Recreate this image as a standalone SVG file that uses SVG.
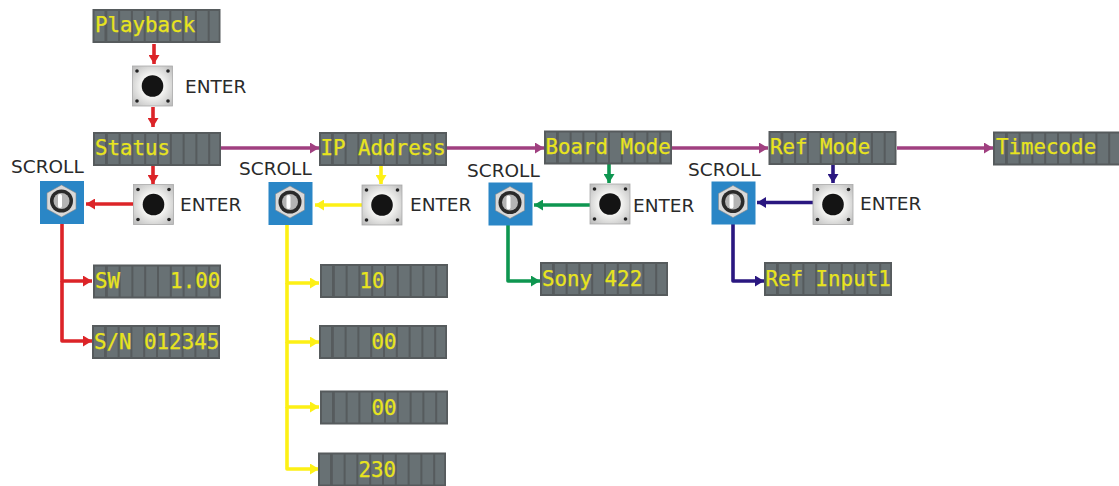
<svg xmlns="http://www.w3.org/2000/svg" width="1119" height="486" viewBox="0 0 1119 486">
<style>
.t{font-family:"DejaVu Sans Mono","Liberation Mono",monospace;font-size:20.8px;fill:#e8e41e;stroke:#e8e41e;stroke-width:.25}
.l{font-family:"DejaVu Sans","Liberation Sans",sans-serif;font-size:18.5px;fill:#2a2a2a}
.c{fill:none;stroke-width:3.6;stroke-linejoin:round}
.r{stroke:#dc2428}.y{stroke:#fdf015}.g{stroke:#0e9650}.b{stroke:#2a1780}.p{stroke:#a04080}
</style>
<defs>
<marker id="mr" markerUnits="userSpaceOnUse" markerWidth="9" markerHeight="11" refX="9" refY="5.5" orient="auto"><path d="M0 0L9 5.5L0 11z" fill="#dc2428"/></marker>
<marker id="my" markerUnits="userSpaceOnUse" markerWidth="9" markerHeight="11" refX="9" refY="5.5" orient="auto"><path d="M0 0L9 5.5L0 11z" fill="#fdf015"/></marker>
<marker id="mg" markerUnits="userSpaceOnUse" markerWidth="9" markerHeight="11" refX="9" refY="5.5" orient="auto"><path d="M0 0L9 5.5L0 11z" fill="#0e9650"/></marker>
<marker id="mb" markerUnits="userSpaceOnUse" markerWidth="9" markerHeight="11" refX="9" refY="5.5" orient="auto"><path d="M0 0L9 5.5L0 11z" fill="#2a1780"/></marker>
<marker id="mp" markerUnits="userSpaceOnUse" markerWidth="9" markerHeight="11" refX="9" refY="5.5" orient="auto"><path d="M0 0L9 5.5L0 11z" fill="#a04080"/></marker>
<g id="disp">
<rect width="128" height="34" fill="#565b5d"/>
<g fill="#687174"><rect x="2" y="2" width="10" height="30"/><rect x="14.800000000000001" y="2" width="10.8" height="30"/><rect x="27.6" y="2" width="10.8" height="30"/><rect x="40.4" y="2" width="10.8" height="30"/><rect x="53.2" y="2" width="10.8" height="30"/><rect x="66" y="2" width="10.8" height="30"/><rect x="78.8" y="2" width="10.8" height="30"/><rect x="91.6" y="2" width="10.8" height="30"/><rect x="104.4" y="2" width="10.8" height="30"/><rect x="117.2" y="2" width="9" height="30"/></g>
</g>
<radialGradient id="eg" cx=".5" cy=".5" r=".7"><stop offset=".4" stop-color="#f4f4f2"/><stop offset="1" stop-color="#b9b9b9"/></radialGradient>
<g id="enter">
<rect width="40" height="40" fill="url(#eg)" stroke="#aaa" stroke-width=".8"/>
<circle cx="20" cy="20" r="10.800" fill="#141414"/>
<g fill="#222"><circle cx="4.500000000000001" cy="5" r="1.8"/><circle cx="35.5" cy="5" r="1.8"/><circle cx="4.500000000000001" cy="35" r="1.8"/><circle cx="35.5" cy="35" r="1.8"/></g>
</g>
<g id="scroll">
<rect width="44" height="43" fill="#2a86c6"/>
<path d="M21.500 4L36 12V28L21.500 36L7 28V12z" fill="#d9d9d9" stroke="#888" stroke-width=".6"/>
<circle cx="21.500" cy="20" r="11.500" fill="#2a2a2a"/>
<circle cx="21.500" cy="20" r="8" fill="#b4b4b4"/>
<rect x="18" y="13" width="4" height="14" rx="2" fill="#fff"/>
</g>
</defs>

<g id="connectors">
<path class="c r" marker-end="url(#mr)" d="M154 44V64"/>
<path class="c r" marker-end="url(#mr)" d="M153 107V127"/>
<path class="c r" marker-end="url(#mr)" d="M153 166V184"/>
<path class="c r" marker-end="url(#mr)" d="M133 204H86"/>
<path class="c r" marker-end="url(#mr)" d="M62 224V281H92"/>
<path class="c r" marker-end="url(#mr)" d="M62 281V341H92"/>
<path class="c y" marker-end="url(#my)" d="M381 166V184"/>
<path class="c y" marker-end="url(#my)" d="M362 205H315"/>
<path class="c y" marker-end="url(#my)" d="M287 225V283H319"/>
<path class="c y" marker-end="url(#my)" d="M287 283V342H319"/>
<path class="c y" marker-end="url(#my)" d="M287 342V407H319"/>
<path class="c y" marker-end="url(#my)" d="M287 407V469H319"/>
<path class="c g" marker-end="url(#mg)" d="M609 164V183"/>
<path class="c g" marker-end="url(#mg)" d="M590 205H534"/>
<path class="c g" marker-end="url(#mg)" d="M508 225V281H540"/>
<path class="c b" marker-end="url(#mb)" d="M833 164V183"/>
<path class="c b" marker-end="url(#mb)" d="M813 202.500H757"/>
<path class="c b" marker-end="url(#mb)" d="M733 224V281H764"/>
<path class="c p" marker-end="url(#mp)" d="M221 148H319"/>
<path class="c p" marker-end="url(#mp)" d="M447 148H544"/>
<path class="c p" marker-end="url(#mp)" d="M672 148H768"/>
<path class="c p" marker-end="url(#mp)" d="M897 148H993"/>
</g>

<g id="n-playback"><use href="#disp" x="92.5" y="9"/><text class="t" x="95" y="32">Playback</text></g>
<g id="n-status"><use href="#disp" x="93" y="132"/><text class="t" x="95" y="155">Status</text></g>
<g id="n-ip"><use href="#disp" x="319" y="132"/><text class="t" x="320.500" y="155">IP Address</text></g>
<g id="n-board"><use href="#disp" x="544" y="130.500"/><text class="t" x="545.500" y="154">Board Mode</text></g>
<g id="n-ref"><use href="#disp" x="768.500" y="131"/><text class="t" x="770" y="154">Ref Mode</text></g>
<g id="n-timecode"><use href="#disp" x="993" y="131.500"/><text class="t" x="996" y="154">Timecode</text></g>
<g id="n-sw"><use href="#disp" x="93" y="264.500"/><text class="t" x="95" y="288" xml:space="preserve">SW    1.00</text></g>
<g id="n-sn"><use href="#disp" x="92" y="325"/><text class="t" x="94" y="349">S/N 012345</text></g>
<g id="n-ip1"><use href="#disp" x="320" y="264"/><text class="t" x="359.500" y="288">10</text></g>
<g id="n-ip2"><use href="#disp" x="319" y="325"/><text class="t" x="371.500" y="349">00</text></g>
<g id="n-ip3"><use href="#disp" x="320" y="390.500"/><text class="t" x="371.500" y="415">00</text></g>
<g id="n-ip4"><use href="#disp" x="318" y="452.500"/><text class="t" x="358.500" y="477">230</text></g>
<g id="n-sony"><use href="#disp" x="540" y="262"/><text class="t" x="542" y="286">Sony 422</text></g>
<g id="n-refin"><use href="#disp" x="764" y="262"/><text class="t" x="765.500" y="286">Ref Input1</text></g>

<g id="n-enter0"><use href="#enter" x="132.500" y="66"/><text class="l" x="185" y="93">ENTER</text></g>
<g id="n-enter1"><use href="#enter" x="133.500" y="184.500"/><text class="l" x="180" y="211">ENTER</text></g>
<g id="n-enter2"><use href="#enter" x="362" y="185"/><text class="l" x="410" y="211">ENTER</text></g>
<g id="n-enter3"><use href="#enter" x="590" y="184"/><text class="l" x="633" y="212">ENTER</text></g>
<g id="n-enter4"><use href="#enter" x="813" y="184.500"/><text class="l" x="860" y="210">ENTER</text></g>
<g id="n-scroll1"><use href="#scroll" x="40" y="181"/><text class="l" x="11" y="173">SCROLL</text></g>
<g id="n-scroll2"><use href="#scroll" x="268.500" y="182"/><text class="l" x="239" y="175">SCROLL</text></g>
<g id="n-scroll3"><use href="#scroll" x="488.500" y="182.500"/><text class="l" x="467" y="177">SCROLL</text></g>
<g id="n-scroll4"><use href="#scroll" x="711.500" y="181.500"/><text class="l" x="688" y="176">SCROLL</text></g>
</svg>
